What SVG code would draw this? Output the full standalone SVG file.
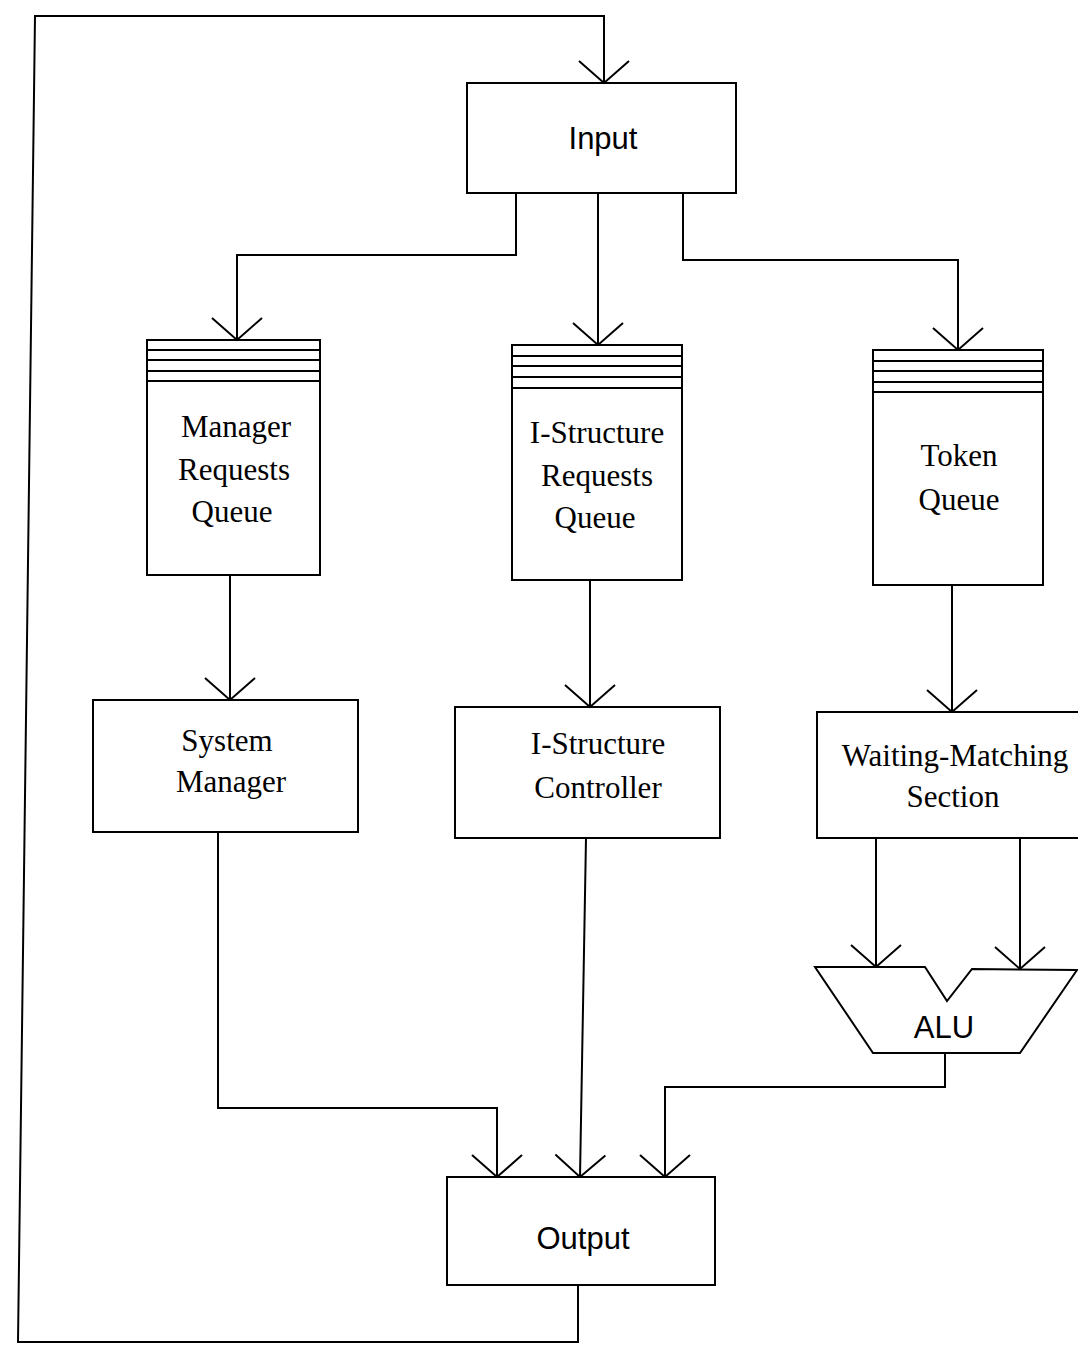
<svg xmlns="http://www.w3.org/2000/svg" width="1078" height="1351" viewBox="0 0 1078 1351">
<style>
.b{fill:none;stroke:#000;stroke-width:2}
.c{fill:none;stroke:#000;stroke-width:2}
.t{font-family:"Liberation Serif","Times New Roman",serif;font-size:31px;fill:#000;text-anchor:middle}
.s{font-family:"Liberation Sans",Arial,sans-serif;font-size:31px;fill:#000;text-anchor:middle}
</style>
<defs>
<marker id="v" markerUnits="userSpaceOnUse" viewBox="-25 -27 27 54" refX="0" refY="0" markerWidth="27" markerHeight="54" orient="auto" overflow="visible">
<path d="M-22,-25 L0,0 L-22,25" fill="none" stroke="#000" stroke-width="2"/>
</marker>
</defs>
<rect width="1078" height="1351" fill="#fff"/>
<g id="connectors">
<polyline class="c" points="578,1285 578,1342 18,1342 35,16 604,16 604,83" marker-end="url(#v)"/>
<polyline class="c" points="516,193 516,255 237,255 237,340" marker-end="url(#v)"/>
<polyline class="c" points="598,193 598,345" marker-end="url(#v)"/>
<polyline class="c" points="683,193 683,260 958,260 958,350" marker-end="url(#v)"/>
<polyline class="c" points="230,575 230,700" marker-end="url(#v)"/>
<polyline class="c" points="590,580 590,707" marker-end="url(#v)"/>
<polyline class="c" points="952,585 952,712" marker-end="url(#v)"/>
<polyline class="c" points="876,838 876,967" marker-end="url(#v)"/>
<polyline class="c" points="1020,838 1020,969" marker-end="url(#v)"/>
<polyline class="c" points="218,832 218,1108 497,1108 497,1177" marker-end="url(#v)"/>
<polyline class="c" points="586,838 580,1177" marker-end="url(#v)"/>
<polyline class="c" points="945,1053 945,1087 665,1087 665,1177" marker-end="url(#v)"/>
</g>
<g id="input">
<rect class="b" x="467" y="83" width="269" height="110"/>
<text class="s" x="603" y="149">Input</text>
</g>
<g id="manager-queue">
<rect class="b" x="147" y="340" width="173" height="235"/>
<line class="b" x1="147" y1="350" x2="320" y2="350"/>
<line class="b" x1="147" y1="360" x2="320" y2="360"/>
<line class="b" x1="147" y1="371" x2="320" y2="371"/>
<line class="b" x1="147" y1="381" x2="320" y2="381"/>
<text class="t" x="236" y="437">Manager</text>
<text class="t" x="234" y="480">Requests</text>
<text class="t" x="232" y="522">Queue</text>
</g>
<g id="istructure-queue">
<rect class="b" x="512" y="345" width="170" height="235"/>
<line class="b" x1="512" y1="356" x2="682" y2="356"/>
<line class="b" x1="512" y1="366" x2="682" y2="366"/>
<line class="b" x1="512" y1="377" x2="682" y2="377"/>
<line class="b" x1="512" y1="388" x2="682" y2="388"/>
<text class="t" x="597" y="443">I-Structure</text>
<text class="t" x="597" y="486">Requests</text>
<text class="t" x="595" y="528">Queue</text>
</g>
<g id="token-queue">
<rect class="b" x="873" y="350" width="170" height="235"/>
<line class="b" x1="873" y1="361" x2="1043" y2="361"/>
<line class="b" x1="873" y1="371" x2="1043" y2="371"/>
<line class="b" x1="873" y1="382" x2="1043" y2="382"/>
<line class="b" x1="873" y1="392" x2="1043" y2="392"/>
<text class="t" x="959" y="466">Token</text>
<text class="t" x="959" y="510">Queue</text>
</g>
<g id="system-manager">
<rect class="b" x="93" y="700" width="265" height="132"/>
<text class="t" x="227" y="751">System</text>
<text class="t" x="231" y="792">Manager</text>
</g>
<g id="istructure-controller">
<rect class="b" x="455" y="707" width="265" height="131"/>
<text class="t" x="598" y="754">I-Structure</text>
<text class="t" x="598" y="798">Controller</text>
</g>
<g id="waiting-matching">
<rect class="b" x="817" y="712" width="270" height="126"/>
<text class="t" x="955" y="766">Waiting-Matching</text>
<text class="t" x="953" y="807">Section</text>
</g>
<g id="alu">
<polygon class="b" points="815,967 925,967 947,1001 972,969 1077,970 1020,1053 873,1053"/>
<text class="s" x="944" y="1038">ALU</text>
</g>
<g id="output">
<rect class="b" x="447" y="1177" width="268" height="108"/>
<text class="s" x="583" y="1249">Output</text>
</g>
</svg>
